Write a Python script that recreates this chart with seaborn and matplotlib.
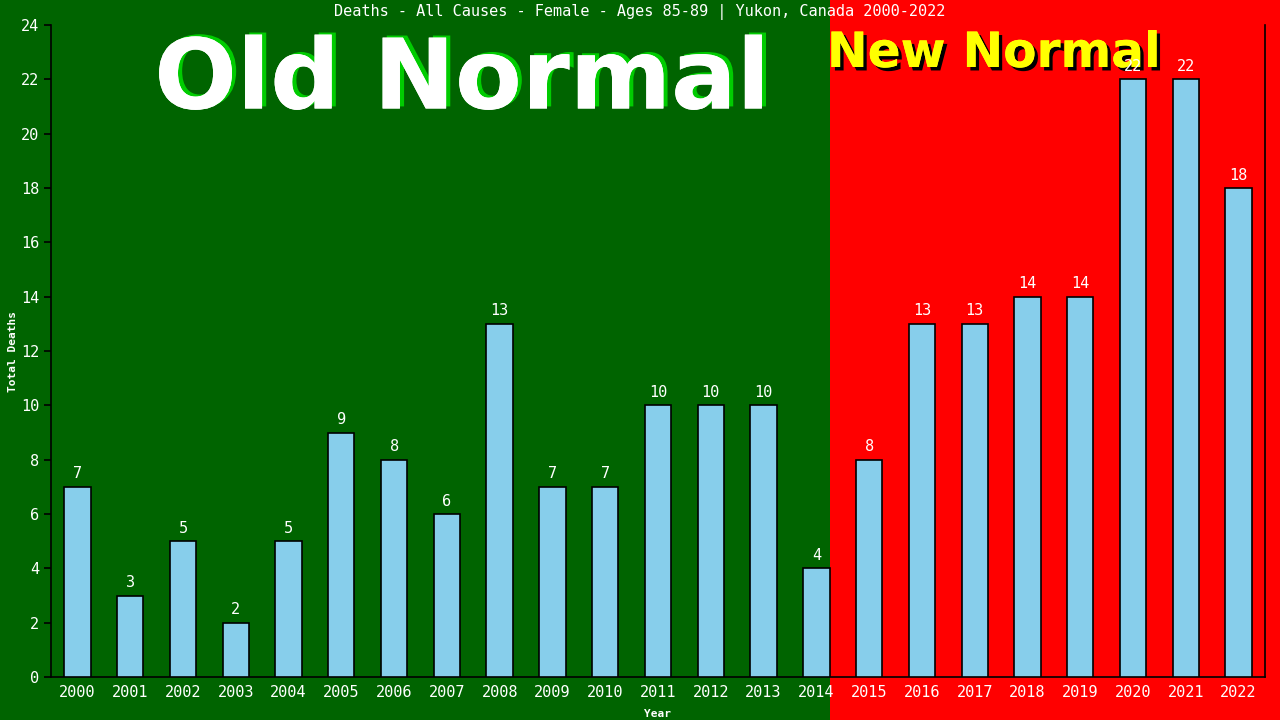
import numpy as np
import pandas as pd
import matplotlib
matplotlib.use("Agg")
import matplotlib.pyplot as plt
import matplotlib.patheffects as pe
from matplotlib.patches import Rectangle
import seaborn as sns

years = [str(y) for y in range(2000, 2023)]
deaths = [7, 3, 5, 2, 5, 9, 8, 6, 13, 7, 7, 10, 10, 10, 4, 8, 13, 13, 14, 14, 22, 22, 18]
split_after = "2014"

GREEN = "#006400"
RED = "#ff0000"
MONO = ["DejaVu Sans Mono"]

sns.set_theme(style="ticks")
plt.rcParams["font.family"] = MONO

df = pd.DataFrame({"Year": years, "Deaths": deaths})

fig = plt.figure(figsize=(12.8, 7.2), dpi=100, facecolor=GREEN)
ax = fig.add_axes([51 / 1280, 43 / 720, 1214 / 1280, 652 / 720])
ax.set_facecolor("none")

sns.barplot(data=df, x="Year", y="Deaths", color="#87ceeb", width=0.5,
            edgecolor="black", linewidth=1.2, saturation=1, ax=ax, zorder=3)

ax.set_xlim(-0.5, len(years) - 0.5)
ax.set_ylim(0, 24)
ax.set_yticks(range(0, 25, 2))

# red background for the "new normal" part, across the whole figure height
split_x = years.index(split_after) + 0.25
fx = fig.transFigure.inverted().transform(ax.transData.transform((split_x, 0)))[0]
fig.patches.append(Rectangle((fx, 0), 1 - fx, 1, transform=fig.transFigure,
                             facecolor=RED, edgecolor="none", zorder=-10))

for i, v in enumerate(deaths):
    ax.text(i, v + 0.2, str(v), ha="center", va="bottom", color="white",
            fontsize=11, family=MONO, zorder=5)

for side in ["left", "bottom", "right"]:
    ax.spines[side].set_color("black")
    ax.spines[side].set_linewidth(1.2)
ax.spines["top"].set_visible(False)
ax.tick_params(axis="both", colors="black", labelcolor="white", labelsize=11,
               length=5, width=1.2, direction="out")
ax.tick_params(axis="x", length=0, pad=6)

ax.set_xlabel("Year", color="white", fontsize=8, fontweight="bold", labelpad=6)
ax.set_ylabel("Total Deaths", color="white", fontsize=8, fontweight="bold", labelpad=2)

fig.text(0.5, 0.995, "Deaths - All Causes - Female - Ages 85-89 | Yukon, Canada 2000-2022",
         ha="center", va="top", color="white", fontsize=11, family=MONO)

# banner texts sit behind the axes so the value labels stay on top
fig.text(462 / 1280, 1 - 82 / 720, "Old Normal",
         ha="center", va="center", color="white", fontsize=70, fontweight="bold",
         family=["DejaVu Sans"], zorder=-1,
         path_effects=[pe.withSimplePatchShadow(offset=(3, 1.5), shadow_rgbFace="#00cc00", alpha=1),
                       pe.Normal()])
fig.text(994 / 1280, 1 - 53 / 720, "New Normal",
         ha="center", va="center", color="#ffff00", fontsize=35, fontweight="bold",
         family=["DejaVu Sans"], zorder=-1,
         path_effects=[pe.withSimplePatchShadow(offset=(2.5, -2.5), shadow_rgbFace="black", alpha=1),
                       pe.Normal()])

fig.savefig("out.png", dpi=100, facecolor=GREEN)
